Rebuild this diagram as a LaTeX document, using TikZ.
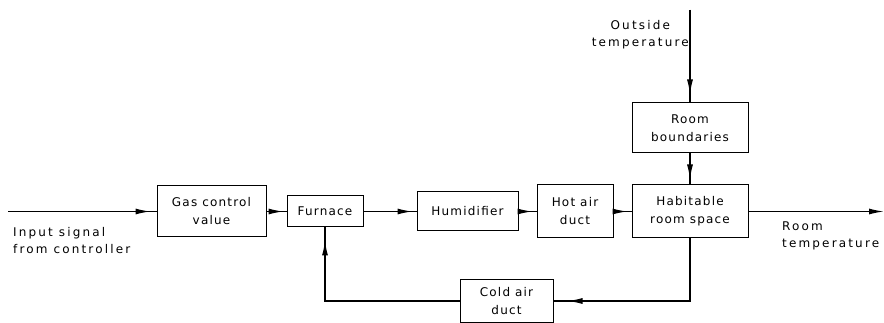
\documentclass[tikz,border=0pt]{standalone}
\usepackage{fontspec}
\setmainfont[LetterSpace=10]{DejaVu Sans}
\newfontfamily\lblfont[LetterSpace=18]{DejaVu Sans}
\usetikzlibrary{arrows.meta}
\tikzset{
  blk/.style={draw, line width=1pt, inner sep=0pt, align=center, font=\fontsize{12}{18}\selectfont},
  lbl/.style={inner sep=0pt, font=\lblfont\fontsize{12}{17}\selectfont},
  conn/.style={line width=1.4pt},
  tip/.style={conn, -{Latex[length=15pt,width=6pt]}, shorten >=#1},
  tip/.default=4pt
}
\begin{document}
\begin{tikzpicture}[x=1pt,y=-1pt]
\useasboundingbox (0,0) rectangle (884,323);
\node[blk, minimum width=109pt, minimum height=51pt] (gas) at (211.5,211.5) {Gas control\\value};
\node[blk, minimum width=76pt, minimum height=31pt] (furn) at (325,211.5) {Furnace};
\node[blk, minimum width=101pt, minimum height=39pt] (hum) at (467.5,211.5) {Humidifier};
\node[blk, minimum width=76pt, minimum height=53pt] (hot) at (575,211.5) {Hot air\\duct};
\node[blk, minimum width=116pt, minimum height=53pt] (hab) at (690,211.5) {Habitable\\room space};
\node[blk, minimum width=116pt, minimum height=50pt] (bound) at (690,128) {Room\\boundaries};
\node[blk, minimum width=93pt, minimum height=42pt] (cold) at (506.5,301) {Cold air\\duct};
\coordinate (in) at (8,211.5);
\coordinate (out) at (884,211.5);
\coordinate (top) at (690,10);
\coordinate (fb) at (hab.south |- cold.east);
\coordinate (fc) at (furn.south |- cold.west);
\node[lbl, anchor=north west, align=left] (inlbl) at (13,227) {Input signal\\from controller};
\node[lbl, anchor=east, align=center] (outlbl) at (689,35) {Outside\\temperature};
\node[lbl, anchor=north west, align=left] (rtlbl) at (782,222) {Room\\temperature};
% plain connectors
\draw[conn] (in) -- (gas.west);
\draw[conn] (gas.east) -- (furn.west);
\draw[conn] (furn.east) -- (hum.west);
\draw[conn] (hum.east) -- (hot.west);
\draw[conn] (hot.east) -- (hab.west);
\draw[conn] (top) -- (bound.north);
\draw[conn] (bound.south) -- (hab.north);
\draw[conn] (hab.south) -- (fb) -- (cold.east);
\draw[conn] (cold.west) -- (fc) -- (furn.south);
% arrowheads
\draw[tip=6pt] (in) -- (gas.west);
\draw[tip=3pt] (gas.east) -- (furn.west);
\draw[tip=4pt] (furn.east) -- (hum.west);
\draw[tip=4pt] (hum.east) -- (hot.west);
\draw[tip=4pt] (hot.east) -- (hab.west);
\draw[tip=0pt] (hab.east) -- (out);
\draw[tip=8pt] (top) -- (bound.north);
\draw[tip=5pt] (bound.south) -- (hab.north);
\draw[tip=14pt] (fb) -- (cold.east);
\draw[tip=13pt] (fc) -- (furn.south);
\end{tikzpicture}
\end{document}
